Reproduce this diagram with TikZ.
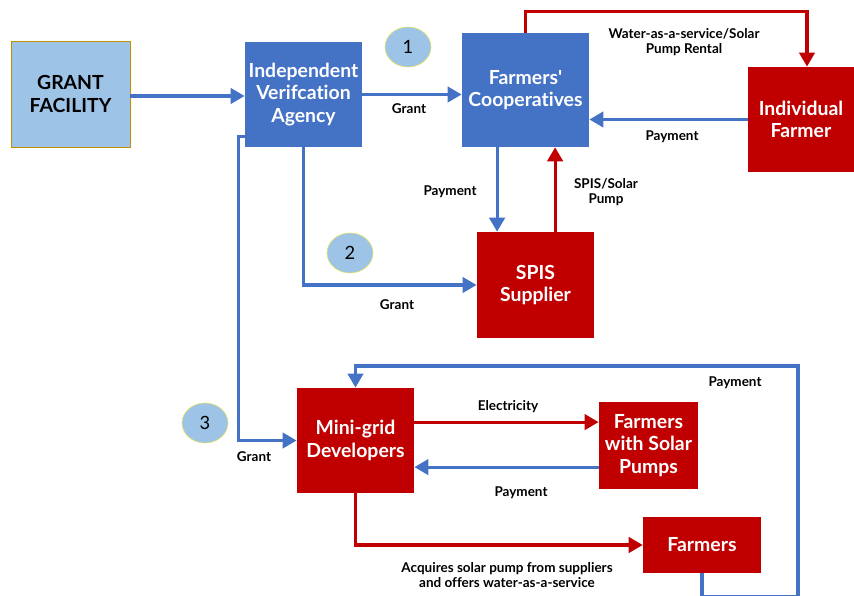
\documentclass[tikz,border=0pt]{standalone}
\usepackage{fontspec}
\setmainfont{Lato}[Ligatures={NoCommon,NoDiscretionary}]
\usetikzlibrary{arrows.meta,shapes.geometric,calc}

\definecolor{boxblue}{HTML}{4472C4}
\definecolor{boxred}{HTML}{C00000}
\definecolor{paleblue}{HTML}{9DC3E6}
\definecolor{goldline}{HTML}{BF9000}
\definecolor{ringline}{HTML}{E6E65A}

\tikzset{
  actor/.style={rectangle, inner sep=0pt, align=center, text=white,
    font=\fontsize{13.8}{16}\selectfont\bfseries},
  bluebox/.style={actor, fill=boxblue},
  redbox/.style={actor, fill=boxred},
  num/.style={ellipse, draw=ringline, fill=paleblue, minimum width=1.15cm,
    minimum height=1cm, inner sep=0pt, font=\fontsize{13}{13}\selectfont},
  flowlbl/.style={align=center, text=black, font=\fontsize{9.6}{11}\selectfont\bfseries},
  bluearr/.style={-{Triangle[length=10pt,width=11pt]}, line width=2.2pt, boxblue},
  redarr/.style={-{Triangle[length=10pt,width=11pt]}, line width=2.2pt, boxred}
}

\begin{document}
\begin{tikzpicture}[x=0.025cm,y=-0.025cm]
\useasboundingbox (0,0) rectangle (854,596);

% actors
\node[actor, fill=paleblue, draw=goldline, thin, text=black, minimum width=2.98cm, minimum height=2.65cm] (gf) at (70.5,94) {GRANT\\FACILITY};
\node[bluebox, minimum width=2.93cm, minimum height=2.63cm] (iva) at (303.5,94.5) {Independent\\Verifcation\\Agency};
\node[bluebox, minimum width=3.18cm, minimum height=2.85cm] (fc) at (525.5,90) {Farmers\textquotesingle\\Cooperatives};
\node[redbox, minimum width=2.65cm, minimum height=2.63cm] (indf) at (801,119.5) {Individual\\Farmer};
\node[redbox, minimum width=2.93cm, minimum height=2.65cm] (spis) at (535.5,285) {SPIS\\Supplier};
\node[redbox, minimum width=2.93cm, minimum height=2.63cm] (mg) at (355.5,440.5) {Mini-grid\\Developers};
\node[redbox, minimum width=2.48cm, minimum height=2.18cm] (fsp) at (648.5,445.5) {Farmers\\with Solar\\Pumps};
\node[redbox, minimum width=2.95cm, minimum height=1.4cm] (farm) at (702,545) {Farmers};

% numbers
\node[num] (n1) at (408,47) {1};
\node[num] (n2) at (350,253) {2};
\node[num] (n3) at (205,423) {3};

% connectors
\draw[bluearr] (gf.east |- 0,96) -- (iva.west |- 0,96);
\draw[bluearr] (iva.east) -- (iva.east -| fc.west);
\draw[bluearr] (indf.west) -- (indf.west -| fc.east);
\draw[redarr] (fc.north) -- ++(0,-21) -| ([xshift=0.15cm]indf.north);
\draw[bluearr] ([xshift=-0.71cm]fc.south) -- ([xshift=-0.71cm]fc.south |- spis.north);
\draw[redarr] ([xshift=0.49cm]spis.north) -- ([xshift=0.49cm]spis.north |- fc.south);
\draw[bluearr] (iva.south) |- (spis.west);
\draw[bluearr] ([yshift=-1.04cm]iva.west) -- ++(-6,0) |- (mg.west);
\draw[redarr] ([yshift=0.46cm]mg.east) -- ([yshift=0.46cm]mg.east -| fsp.west);
\draw[bluearr] ([yshift=-0.54cm]fsp.west) -- ([yshift=-0.54cm]fsp.west -| mg.east);
\draw[redarr] (mg.south) |- (farm.west);
\coordinate (back) at (798,366);
\draw[bluearr] (farm.south) -- ++(0,23) -| (back) -| (mg.north);

% labels
\node[flowlbl] (l1) at (409,109) {Grant};
\node[flowlbl] (l2) at (672,137) {Payment};
\node[flowlbl] (l3) at (684,42) {Water-as-a-service/Solar\\Pump Rental};
\node[flowlbl] (l4) at (450,192) {Payment};
\node[flowlbl] (l5) at (606,192) {SPIS/Solar\\Pump};
\node[flowlbl] (l6) at (397,305) {Grant};
\node[flowlbl] (l7) at (254,457) {Grant};
\node[flowlbl] (l8) at (508,407) {Electricity};
\node[flowlbl] (l9) at (521,493) {Payment};
\node[flowlbl] (l10) at (507,575) {Acquires solar pump from suppliers\\and offers water-as-a-service};
\node[flowlbl] (l11) at (735,383) {Payment};
\end{tikzpicture}
\end{document}
